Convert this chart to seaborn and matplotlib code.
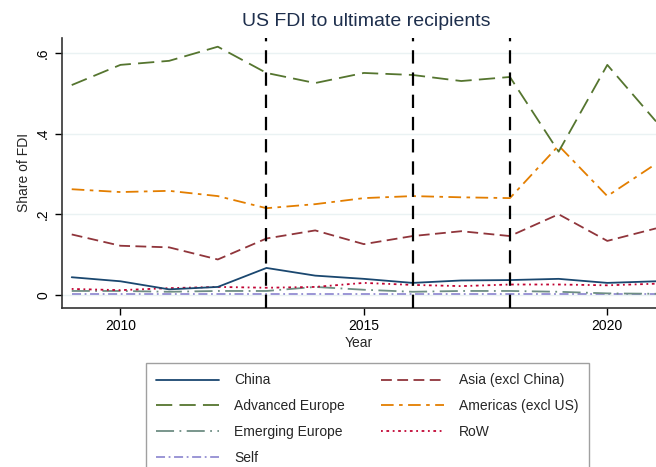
import matplotlib
matplotlib.use("Agg")
import matplotlib.pyplot as plt
import seaborn as sns
import pandas as pd
from matplotlib.lines import Line2D

years = list(range(2009, 2022))
china = [0.044, 0.034, 0.014, 0.020, 0.067, 0.048, 0.040, 0.030, 0.036, 0.037, 0.040, 0.030, 0.034]
asia = [0.150, 0.122, 0.118, 0.088, 0.140, 0.160, 0.126, 0.146, 0.158, 0.146, 0.200, 0.134, 0.165]
adv_europe = [0.520, 0.570, 0.580, 0.615, 0.550, 0.525, 0.550, 0.545, 0.530, 0.540, 0.355, 0.570, 0.430]
americas = [0.262, 0.255, 0.258, 0.245, 0.215, 0.225, 0.240, 0.245, 0.242, 0.240, 0.370, 0.245, 0.325]
emerging_europe = [0.010, 0.010, 0.008, 0.010, 0.010, 0.020, 0.013, 0.008, 0.010, 0.010, 0.008, 0.004, 0.003]
row = [0.015, 0.012, 0.017, 0.020, 0.018, 0.020, 0.030, 0.025, 0.022, 0.026, 0.026, 0.024, 0.028]
self_ = [0.002, 0.002, 0.002, 0.002, 0.002, 0.002, 0.002, 0.002, 0.002, 0.002, 0.002, 0.002, 0.002]
vlines = [2013, 2016, 2018]

sns.set_theme(style="white")
plt.rcParams['font.family'] = ['Liberation Sans', 'DejaVu Sans']

series = [
    ("Self", self_, "#938dd2", (0, (5, 2, 1, 2))),
    ("Emerging Europe", emerging_europe, "#6e8e84", (0, (10, 3, 1, 3))),
    ("RoW", row, "#c10534", (0, (1, 2, 1.5, 2))),
    ("China", china, "#1a476f", "-"),
    ("Asia (excl China)", asia, "#90353b", (0, (6, 3))),
    ("Americas (excl US)", americas, "#e37e00", (0, (7, 3, 2, 3))),
    ("Advanced Europe", adv_europe, "#55752f", (0, (9, 4))),
]

fig = plt.figure(figsize=(6.56, 4.67), dpi=100)
ax = fig.add_axes([0.0945, 0.3415, 0.9055, 0.5775])

for y in [0, 0.2, 0.4, 0.6]:
    ax.axhline(y, color="#eaf2f3", lw=1.0, zorder=0)

handles = {}
for name, vals, col, ls in series:
    df = pd.DataFrame({"Year": years, "Share": vals})
    sns.lineplot(data=df, x="Year", y="Share", ax=ax, color=col, linestyle=ls, lw=1.3, legend=False)
    handles[name] = Line2D([0], [0], color=col, linestyle=ls, lw=1.3)

for v in vlines:
    ax.axvline(v, color="black", lw=1.6, linestyle=(0, (6, 4)), zorder=5)

ax.set_xlim(2008.8, 2021.0)
ax.set_ylim(-0.031, 0.637)
ax.set_yticks([0, 0.2, 0.4, 0.6])
ax.set_yticklabels(["0", ".2", ".4", ".6"], rotation=90, va="center")
ax.set_xticks([2010, 2015, 2020])
ax.set_xticklabels(["2010", "2015", "2020"])
ax.tick_params(axis="both", length=5, width=1, colors="black", labelsize=10, direction="out",
               bottom=True, left=True)
for s in ["top", "right"]:
    ax.spines[s].set_visible(False)
for s in ["left", "bottom"]:
    ax.spines[s].set_color("#333333")
    ax.spines[s].set_linewidth(1.2)
ax.set_xlabel("Year", fontsize=10, labelpad=2)
ax.set_ylabel("Share of FDI", fontsize=10, labelpad=4)

fig.text(0.558, 0.953, "US FDI to ultimate recipients", ha="center", va="center",
         fontsize=14, color="#1e2f4d", family=['Liberation Sans Narrow', 'Liberation Sans', 'DejaVu Sans'])

order = ["China", "Advanced Europe", "Emerging Europe", "Self",
         "Asia (excl China)", "Americas (excl US)", "RoW"]
leg = fig.legend([handles[n] for n in order], order, ncol=2, loc="upper left",
                 bbox_to_anchor=(146 / 656, 1 - 363 / 467), frameon=True, fancybox=False,
                 fontsize=10, handlelength=4.5, columnspacing=2.6, labelspacing=0.85,
                 borderpad=0.75, handletextpad=1.1, borderaxespad=0)
leg.get_frame().set_edgecolor("#888888")
leg.get_frame().set_linewidth(1.0)

fig.savefig("out.png", dpi=100, facecolor="white")
